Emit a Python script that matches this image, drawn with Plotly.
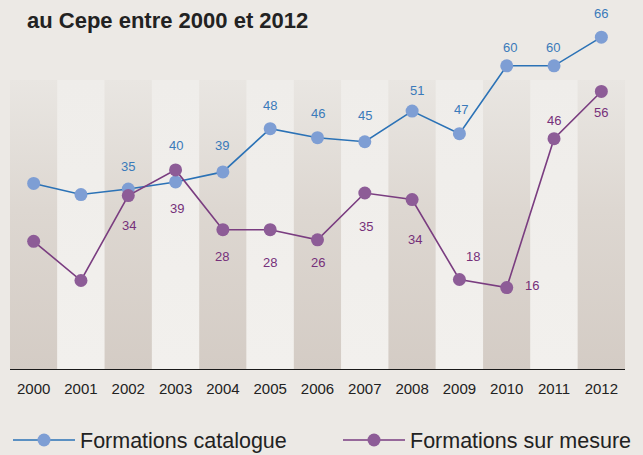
import plotly.graph_objects as go

# ---- data ----
years = list(range(2000, 2013))
catalogue = [36.9, 34.7, 35.8, 37.2, 39.2, 47.8, 46.0, 45.2, 51.3, 46.8, 60.3, 60.3, 66.0]
sur_mesure = [25.4, 17.6, 34.5, 39.6, 27.7, 27.7, 25.7, 35.0, 33.7, 17.8, 16.2, 45.8, 55.2]
catalogue_labels = ["", "", "35", "40", "39", "48", "46", "45", "51", "47", "60", "60", "66"]
sur_mesure_labels = ["", "", "34", "39", "28", "28", "26", "35", "34", "18", "16", "46", "56"]
tick_labels = [str(y) for y in years]

# label offsets (pixels, x right / y up)
cat_dx = [0, 0, 0, 0, -1, 0, 0, 0, 5, 2, 3, -1, 0]
cat_dy = [23, 23, 23, 36, 26, 23, 24, 26, 21, 24, 18, 18, 24]
sm_dx = [0, 0, 1, 1, -1, 0, 0, 1, 3, 14, 25, 0, 0]
sm_dy = [-30, -30, -30, -39, -27, -33, -23, -33, -40, 23, 2, 18, -21]

FONT = "Liberation Sans, Arial, Helvetica, sans-serif"
BLUE_LINE = "#2b72b6"
BLUE_MARK = "#7e9ed4"
BLUE_TEXT = "#3a7aba"
PURP_LINE = "#7a3d80"
PURP_MARK = "#8d5c97"
PURP_TEXT = "#76307a"
BG = "#ece9e5"
BAND_TOP = 57.5

fig = go.Figure()

# alternating background bands
for i, yr in enumerate(years):
    if i % 2 == 0:
        cs = [[0, "#d4ccc5"], [0.55, "#ddd7d1"], [1, "#e9e6e2"]]
    else:
        cs = [[0, "#f2f0ed"], [1, "#efedea"]]
    fig.add_trace(go.Scatter(
        x=[yr - 0.5, yr + 0.5, yr + 0.5, yr - 0.5, yr - 0.5],
        y=[0, 0, BAND_TOP, BAND_TOP, 0],
        mode="lines", line=dict(width=0), fill="toself",
        fillgradient=dict(type="vertical", colorscale=cs),
        hoverinfo="skip", showlegend=False,
    ))

fig.add_trace(go.Scatter(
    x=years, y=catalogue, name="Formations catalogue", mode="lines+markers",
    line=dict(color=BLUE_LINE, width=1.6),
    marker=dict(color=BLUE_MARK, size=13),
    legend="legend",
))
fig.add_trace(go.Scatter(
    x=years, y=sur_mesure, name="Formations sur mesure", mode="lines+markers",
    line=dict(color=PURP_LINE, width=1.6),
    marker=dict(color=PURP_MARK, size=13),
    legend="legend2",
))

annotations = []
for i, yr in enumerate(years):
    if catalogue_labels[i]:
        annotations.append(dict(x=yr, y=catalogue[i], text=catalogue_labels[i], showarrow=False,
                                xshift=cat_dx[i], yshift=cat_dy[i],
                                font=dict(family=FONT, size=13, color=BLUE_TEXT)))
    if sur_mesure_labels[i]:
        annotations.append(dict(x=yr, y=sur_mesure[i], text=sur_mesure_labels[i], showarrow=False,
                                xshift=sm_dx[i], yshift=sm_dy[i],
                                font=dict(family=FONT, size=13, color=PURP_TEXT)))

legend_common = dict(orientation="h", xref="container", yref="container", xanchor="left",
                     y=1 - 440 / 455, yanchor="middle", itemwidth=62,
                     font=dict(size=21.5, color="#222222"), bgcolor="rgba(0,0,0,0)")

fig.update_layout(
    width=643, height=455,
    margin=dict(l=10, r=18, t=10, b=86, autoexpand=False),
    paper_bgcolor=BG, plot_bgcolor=BG,
    font=dict(family=FONT, color="#222222"),
    title=dict(text="<b>au Cepe entre 2000 et 2012</b>", x=27 / 643, xanchor="left",
               y=1 - 20 / 455, yanchor="middle", font=dict(size=22, color="#222222")),
    xaxis=dict(range=[1999.5, 2012.5], tickvals=years, ticktext=tick_labels,
               showgrid=False, zeroline=False, showline=True, linecolor="#1a1a1a",
               linewidth=1.4, ticks="", ticklabelstandoff=6,
               tickfont=dict(size=15, color="#222222")),
    yaxis=dict(range=[0, 71.4], visible=False, showgrid=False, zeroline=False),
    legend=dict(x=8 / 643, **legend_common),
    legend2=dict(x=338 / 643, **legend_common),
    annotations=annotations,
    showlegend=True,
)

fig.write_html("out.html", config={"displayModeBar": False},
               post_script="document.body.style.margin='0';document.body.style.background='%s';" % BG)
